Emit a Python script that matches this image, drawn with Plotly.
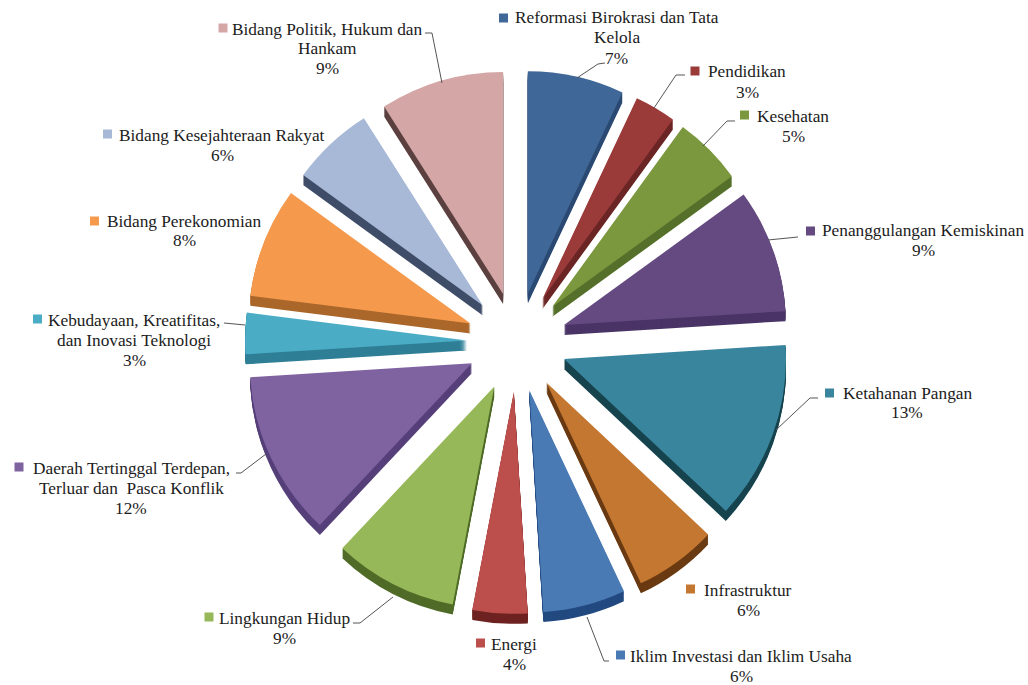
import plotly.graph_objects as go

WIDTH, HEIGHT = 1028, 685

# Share of each programme area, clockwise from twelve o'clock
categories = [
    "Reformasi Birokrasi dan Tata Kelola", "Pendidikan", "Kesehatan",
    "Penanggulangan Kemiskinan", "Ketahanan Pangan", "Infrastruktur",
    "Iklim Investasi dan Iklim Usaha", "Energi", "Lingkungan Hidup",
    "Daerah Tertinggal Terdepan, Terluar dan Pasca Konflik",
    "Kebudayaan, Kreatifitas, dan Inovasi Teknologi", "Bidang Perekonomian",
    "Bidang Kesejahteraan Rakyat", "Bidang Politik, Hukum dan Hankam",
]
shares = [7, 3, 5, 9, 13, 6, 6, 4, 9, 12, 3, 8, 6, 9]
colors = ["#3F6797", "#9A3B3A", "#7C983F", "#644A80", "#3A859E", "#C47730", "#4A7AB4",
          "#BC4E4B", "#97B858", "#7F63A1", "#4BACC6", "#F59A4D", "#A7B9D7", "#D4A6A5"]
# Side-wall shade of each slice
edge_colors = ["#2B4A73", "#6A2524", "#55702A", "#4A3466", "#17444F", "#6A3A12", "#224A80",
               "#6E2221", "#506B28", "#57407A", "#2F7F96", "#AB672B", "#3F4D68", "#5C4040"]

# Wrapped label lines as they are set beside each slice
label_lines = [
    ["Reformasi Birokrasi dan Tata", "Kelola"], ["Pendidikan"], ["Kesehatan"],
    ["Penanggulangan Kemiskinan"], ["Ketahanan Pangan"], ["Infrastruktur"],
    ["Iklim Investasi dan Iklim Usaha"], ["Energi"], ["Lingkungan Hidup"],
    ["Daerah Tertinggal Terdepan,", "Terluar dan  Pasca Konflik"],
    ["Kebudayaan, Kreatifitas,", "dan Inovasi Teknologi"], ["Bidang Perekonomian"],
    ["Bidang Kesejahteraan Rakyat"], ["Bidang Politik, Hukum dan", "Hankam"],
]
# Pixel placement of the labels: text centre x, first line y, key square centre x, key y
label_x = [616.5, 747, 793, 923, 907, 748, 741, 514, 284, 131, 134, 184, 222, 327]
label_y = [18, 72, 116, 231, 393, 590, 656, 644, 618, 468, 320, 221, 135, 29]
key_x = [503.5, 695, 744.5, 810.5, 829.5, 690.5, 620.5, 480.5, 209, 19, 37.5, 94.5, 107.5, 223]
key_y = [18, 71, 115, 231, 393, 589, 655, 643, 617, 467, 319, 221, 134, 28]

# Leader lines from label to slice, in pixels
leaders = [
    [(605, 63), (598, 64), (577, 78)],
    [(685, 75), (676, 75), (654, 108)],
    [(735, 121), (727, 121), (703, 146)],
    [(798, 237), (768, 240)],
    [(818, 398), (810, 398), (776, 430)],
    [(609, 661), (604, 661), (587, 617)],
    [(353, 623), (360, 623), (393, 597)],
    [(236, 473), (241, 473), (266, 454)],
    [(224, 323), (245, 325)],
    [(425, 33), (432, 33), (442, 83)],
]

CENTER_X, CENTER_Y = 517, 342
RADIUS = 222
PULL = 0.225
DEPTH = 10
FONT = "Liberation Serif"
FONT_SIZE = 17.3
LINE_HEIGHT = 20


def px(x):
    return x / WIDTH


def py(y):
    return 1 - y / HEIGHT


def pie_layer(offset, slice_colors):
    half = RADIUS * (1 + PULL)
    return go.Pie(
        labels=categories,
        values=shares,
        pull=PULL,
        sort=False,
        direction="clockwise",
        rotation=0,
        textinfo="none",
        hovertemplate="%{label}: %{percent}<extra></extra>",
        showlegend=False,
        marker=dict(colors=slice_colors, line=dict(width=0)),
        domain=dict(
            x=[px(CENTER_X - half), px(CENTER_X + half)],
            y=[py(CENTER_Y + offset + half), py(CENTER_Y + offset - half)],
        ),
    )


fig = go.Figure()

# The extruded edge is a stack of darker copies shifted downward
for offset in range(DEPTH, 0, -1):
    fig.add_trace(pie_layer(offset, edge_colors))
fig.add_trace(pie_layer(0, colors))

annotations = []
shapes = []
for lines, share, x, y, kx, ky, color in zip(label_lines, shares, label_x, label_y, key_x, key_y, colors):
    rows = lines + [f"{share}%"]
    for i, row in enumerate(rows):
        annotations.append(dict(
            xref="paper", yref="paper", x=px(x), y=py(y + i * LINE_HEIGHT),
            text=row, showarrow=False, xanchor="center", yanchor="middle",
            font=dict(family=FONT, size=FONT_SIZE, color="#1c1c1c"),
        ))
    shapes.append(dict(
        type="rect", xref="paper", yref="paper", line=dict(width=0), fillcolor=color,
        x0=px(kx - 4.5), x1=px(kx + 4.5), y0=py(ky + 4.5), y1=py(ky - 4.5),
    ))

for points in leaders:
    path = "M " + " L ".join(f"{px(a):.5f},{py(b):.5f}" for a, b in points)
    shapes.append(dict(type="path", xref="paper", yref="paper", path=path,
                       line=dict(color="#555555", width=1)))

fig.update_layout(
    width=WIDTH, height=HEIGHT,
    margin=dict(l=0, r=0, t=0, b=0),
    paper_bgcolor="white",
    annotations=annotations,
    shapes=shapes,
)

fig.write_html("out.html")
